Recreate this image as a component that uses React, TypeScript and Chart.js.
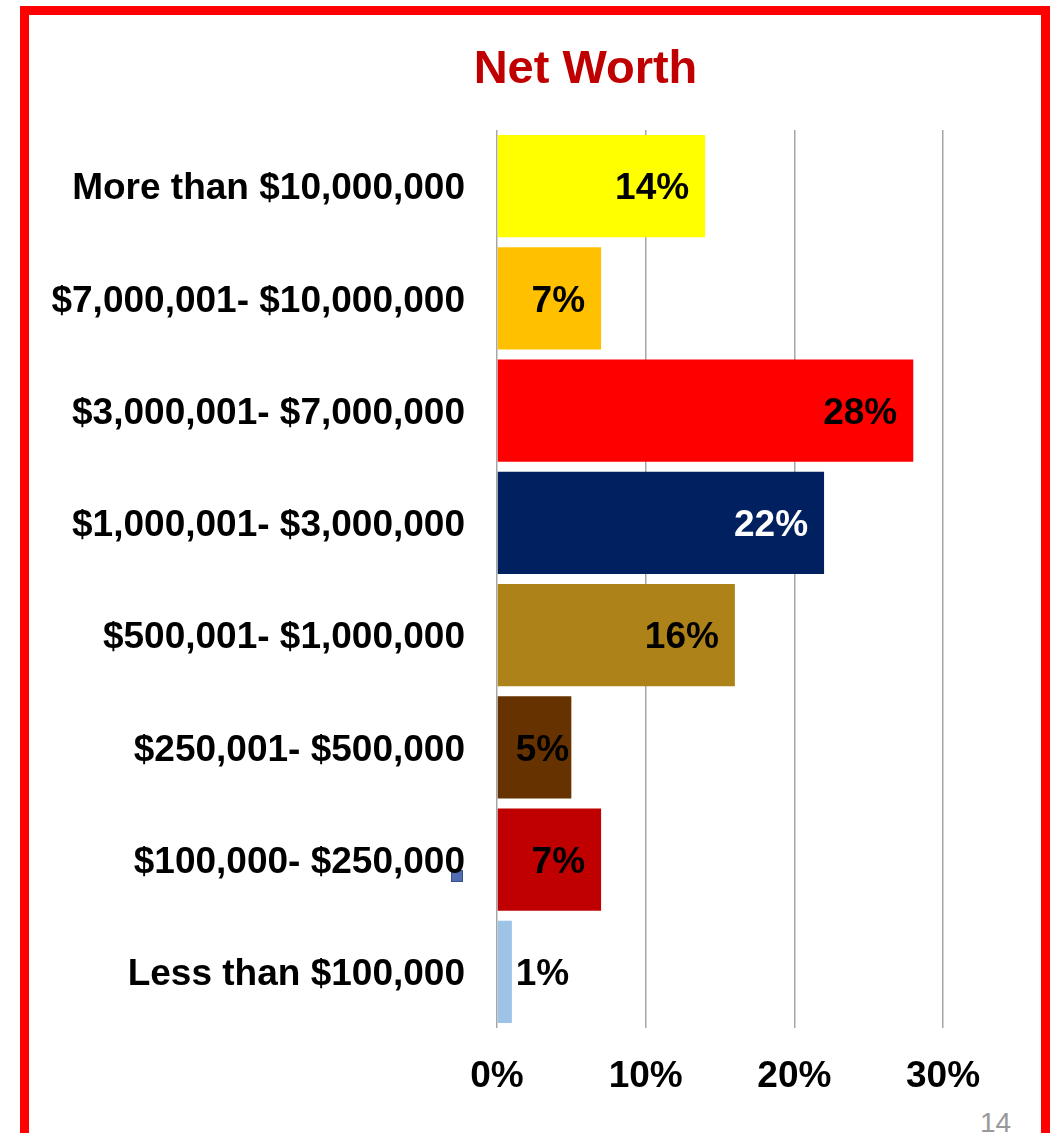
import React, { useEffect, useRef } from "react";
import { Chart, registerables } from "chart.js";

Chart.register(...registerables);

const categories = [
  "More than $10,000,000",
  "$7,000,001- $10,000,000",
  "$3,000,001- $7,000,000",
  "$1,000,001- $3,000,000",
  "$500,001- $1,000,000",
  "$250,001- $500,000",
  "$100,000- $250,000",
  "Less than $100,000",
];
const values = [14, 7, 28, 22, 16, 5, 7, 1];
const barColors = [
  "#FFFF00",
  "#FFC000",
  "#FF0000",
  "#002060",
  "#AD8319",
  "#663300",
  "#C00000",
  "#9DC3E6",
];
const labelColors = ["#000", "#000", "#000", "#FFF", "#000", "#000", "#000", "#000"];
const xTicks = [0, 10, 20, 30];
const titleText = "Net Worth";
const pageNumber = "14";

const FONT = "'Liberation Sans', Arial, sans-serif";

const titlePlugin = {
  id: "customTitle",
  afterDraw(chart: any) {
    const ctx = chart.ctx;
    ctx.save();
    ctx.font = `bold 47px ${FONT}`;
    ctx.fillStyle = "#C00000";
    ctx.textAlign = "center";
    ctx.textBaseline = "alphabetic";
    ctx.fillText(titleText, 585.5, 83);
    ctx.restore();
  },
};

const valueLabelPlugin = {
  id: "valueLabels",
  afterDatasetsDraw(chart: any) {
    const ctx = chart.ctx;
    const meta = chart.getDatasetMeta(0);
    ctx.save();
    ctx.font = `bold 37px ${FONT}`;
    ctx.textAlign = "right";
    ctx.textBaseline = "middle";
    meta.data.forEach((bar: any, i: number) => {
      const txt = `${values[i]}%`;
      const w = ctx.measureText(txt).width;
      const right = Math.max(bar.x - 16, bar.base + 18 + w);
      ctx.fillStyle = labelColors[i];
      ctx.fillText(txt, right, bar.y + 3);
    });
    ctx.restore();
  },
};

export default function App() {
  const ref = useRef<HTMLCanvasElement>(null);

  useEffect(() => {
    document.body.style.margin = "0";
    if (!ref.current) return;
    const chart = new Chart(ref.current, {
      type: "bar",
      data: {
        labels: categories,
        datasets: [
          {
            data: values,
            backgroundColor: barColors,
            borderWidth: 0,
            categoryPercentage: 1,
            barPercentage: 0.909,
          },
        ],
      },
      options: {
        indexAxis: "y",
        animation: false,
        responsive: false,
        maintainAspectRatio: false,
        layout: { padding: { top: 130, right: 111, bottom: 0, left: 0 } },
        plugins: {
          legend: { display: false },
          title: { display: false },
          tooltip: { enabled: false },
        },
        scales: {
          x: {
            min: xTicks[0],
            max: xTicks[xTicks.length - 1],
            afterBuildTicks(scale: any) {
              scale.ticks = xTicks.map((v) => ({ value: v }));
            },
            afterFit(scale: any) {
              scale.height = 105;
            },
            grid: {
              display: true,
              drawTicks: false,
              color: "#A6A6A6",
              lineWidth: 1.5,
            },
            border: { display: false },
            ticks: {
              padding: 27,
              color: "#000",
              font: { family: FONT, size: 37, weight: "bold" },
              callback: (v: any) => `${v}%`,
            },
          },
          y: {
            afterFit(scale: any) {
              scale.width = 497;
            },
            grid: { display: false, drawTicks: false },
            border: { display: false },
            ticks: {
              padding: 32,
              labelOffset: 3,
              color: "#000",
              font: { family: FONT, size: 37, weight: "bold" },
            },
          },
        },
      },
      plugins: [valueLabelPlugin, titlePlugin],
    });
    return () => chart.destroy();
  }, []);

  return (
    <div
      style={{
        position: "relative",
        width: 1054,
        height: 1133,
        overflow: "hidden",
        background: "#FFF",
      }}
    >
      <div
        style={{
          position: "absolute",
          left: 20,
          top: 6,
          width: 1030,
          height: 1250,
          boxSizing: "border-box",
          border: "9px solid #FF0000",
        }}
      />
      <div
        style={{
          position: "absolute",
          left: 451,
          top: 870,
          width: 12,
          height: 12,
          boxSizing: "border-box",
          background: "#4F6DB0",
          border: "1px solid #34508F",
        }}
      />
      <div
        style={{
          position: "absolute",
          left: 980,
          top: 1109,
          fontFamily: FONT,
          fontSize: 28,
          lineHeight: "28px",
          color: "#999999",
        }}
      >
        {pageNumber}
      </div>
      <canvas
        ref={ref}
        width={1054}
        height={1133}
        style={{ position: "absolute", left: 0, top: 0 }}
      />
    </div>
  );
}
